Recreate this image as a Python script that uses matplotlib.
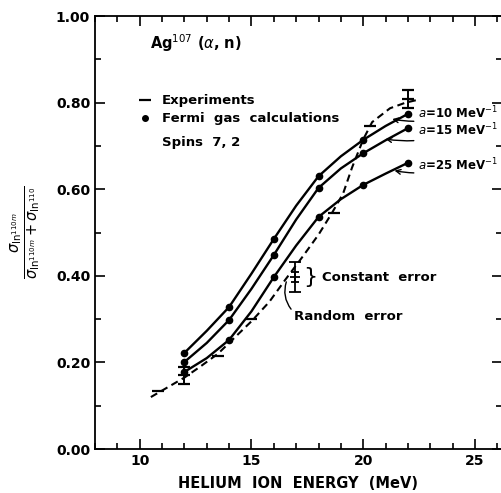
import numpy as np
import matplotlib
matplotlib.use("Agg")
import matplotlib.pyplot as plt
from matplotlib.ticker import MultipleLocator

plt.rcParams['font.family'] = ['DejaVu Sans']
plt.rcParams['mathtext.fontset'] = 'dejavusans'

# Fermi gas calculations (dots)
calc_e = [12, 14, 16, 18, 20, 22]
calc_a10 = [0.222, 0.328, 0.485, 0.630, 0.714, 0.774]
calc_a15 = [0.201, 0.298, 0.448, 0.603, 0.683, 0.741]
calc_a25 = [0.178, 0.252, 0.397, 0.536, 0.610, 0.661]

# smooth curves traced through the calculations
trace_e = [12, 13, 14, 15, 16, 17, 18, 19, 20, 21, 22]
trace_a10 = [0.222, 0.273, 0.328, 0.405, 0.485, 0.562, 0.630, 0.676, 0.714, 0.746, 0.774]
trace_a15 = [0.201, 0.245, 0.298, 0.370, 0.448, 0.530, 0.603, 0.648, 0.683, 0.713, 0.741]
trace_a25 = [0.178, 0.210, 0.252, 0.318, 0.397, 0.470, 0.536, 0.577, 0.610, 0.636, 0.661]

# experiments (dashed curve + dash markers)
exp_curve_e = [10.5, 11.0, 12.0, 12.7, 13.5, 14.0, 15.0, 15.8, 16.5, 17.3, 18.0, 18.6, 19.1, 19.5, 20.0, 20.4, 21.2, 21.9, 22.4]
exp_curve_y = [0.120, 0.135, 0.165, 0.190, 0.220, 0.245, 0.295, 0.340, 0.390, 0.445, 0.495, 0.545, 0.590, 0.650, 0.715, 0.755, 0.787, 0.800, 0.806]
exp_e = [10.8, 13.5, 15.0, 18.7, 20.3]
exp_y = [0.135, 0.215, 0.300, 0.545, 0.745]
bar_e = [12.0, 22.0]
bar_y = [0.170, 0.808]
bar_err = [0.020, 0.020]

fig = plt.figure(figsize=(5.01, 4.93), dpi=100)
ax = fig.add_axes([0.1896, 0.0892, 0.812, 0.8783])

ax.plot(exp_curve_e, exp_curve_y, color='black', lw=1.5, ls=(0, (3.5, 2.2)))
ax.plot(exp_e, exp_y, ls='none', marker='_', ms=9, mew=1.6, color='black')
ax.errorbar(bar_e, bar_y, yerr=bar_err, fmt='_', ms=9, mew=1.6, color='black',
            elinewidth=1.4, capsize=4, capthick=1.4)

for tr, cv in [(trace_a10, calc_a10), (trace_a15, calc_a15), (trace_a25, calc_a25)]:
    ax.plot(trace_e, tr, color='black', lw=1.7)
    ax.plot(calc_e, cv, ls='none', marker='o', ms=4.5, color='black')

# constant / random error bars
ax.errorbar([16.95], [0.397], yerr=[0.034], fmt='none', color='black',
            elinewidth=1.3, capsize=4, capthick=1.3)
ax.errorbar([16.95], [0.397], yerr=[0.012], fmt='_', ms=7, mew=1.3, color='black',
            elinewidth=1.3, capsize=3, capthick=1.3)
ax.text(17.3, 0.397, '}', fontsize=16, va='center', ha='left')
ax.text(18.15, 0.397, 'Constant  error', fontsize=9.5, fontweight='bold', va='center')
ax.text(16.9, 0.305, 'Random  error', fontsize=9.5, fontweight='bold', va='center')
ax.annotate('', xy=(16.6, 0.392), xytext=(16.85, 0.318),
            arrowprops=dict(arrowstyle='-', color='black', lw=1.0,
                            connectionstyle='arc3,rad=-0.3'))

# labels for curves
curve_lbls = [r'$a$=10 MeV$^{-1}$', r'$a$=15 MeV$^{-1}$', r'$a$=25 MeV$^{-1}$']
lbl_y = [0.777, 0.737, 0.656]
head_xy = [(21.3, 0.762), (21.0, 0.716), (21.4, 0.643)]
for t, ly, hd in zip(curve_lbls, lbl_y, head_xy):
    ax.annotate(t, xy=hd, xytext=(22.45, ly), fontsize=8.5, fontweight='bold',
                va='center', ha='left',
                arrowprops=dict(arrowstyle='->', color='black', lw=1.0,
                                connectionstyle='arc3,rad=-0.15',
                                shrinkA=1, shrinkB=0))

ax.text(10.47, 0.938, r'Ag$^{107}$ ($\alpha$, n)', fontsize=10.5, fontweight='bold', va='center')
ax.plot([10.25], [0.806], marker='_', ms=8, mew=1.6, color='black')
ax.text(11.0, 0.806, 'Experiments', fontsize=9.5, fontweight='bold', va='center')
ax.plot([10.25], [0.764], marker='o', ms=4, color='black')
ax.text(11.0, 0.764, 'Fermi  gas  calculations', fontsize=9.5, fontweight='bold', va='center')
ax.text(11.0, 0.709, 'Spins  7, 2', fontsize=9.5, fontweight='bold', va='center')

ax.set_xlim(8.0, 26.2)
ax.set_ylim(0, 1.0)
ax.xaxis.set_major_locator(MultipleLocator(5))
ax.xaxis.set_minor_locator(MultipleLocator(1))
ax.yaxis.set_major_locator(MultipleLocator(0.2))
ax.yaxis.set_minor_locator(MultipleLocator(0.1))
ax.tick_params(which='both', direction='in', top=True, right=True, width=1.2)
ax.tick_params(which='major', length=7, labelsize=10)
ax.tick_params(which='minor', length=4)
ax.set_yticks([0, 0.2, 0.4, 0.6, 0.8, 1.0])
ax.set_yticklabels(['0.00', '0.20', '0.40', '0.60', '0.80', '1.00'], fontweight='bold')
ax.set_xticks([10, 15, 20, 25])
ax.set_xticklabels(['10', '15', '20', '25'], fontweight='bold')
for s in ax.spines.values():
    s.set_linewidth(1.3)

ax.set_xlabel('HELIUM  ION  ENERGY  (MeV)', fontsize=10.5, fontweight='bold', labelpad=6)
fig.text(0.052, 0.529,
         r'$\frac{\sigma_{\mathrm{In}^{110m}}}{\sigma_{\mathrm{In}^{110m}}+\sigma_{\mathrm{In}^{110}}}$',
         rotation=90, fontsize=15, ha='center', va='center')

fig.savefig('out.png', dpi=100)
